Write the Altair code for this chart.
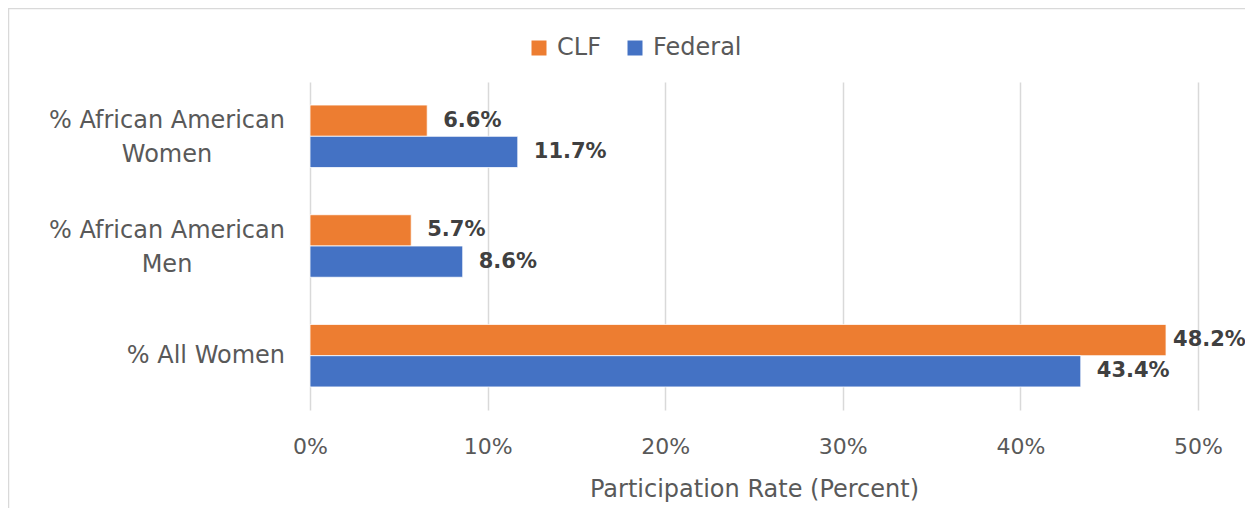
import altair as alt
import pandas as pd

categories = ["% African American Women", "% African American Men", "% All Women"]
label_lines = [["% African American", "Women"], ["% African American", "Men"], ["% All Women"]]
series = ["CLF", "Federal"]
clf_values = [6.6, 5.7, 48.2]
federal_values = [11.7, 8.6, 43.4]
x_ticks = [0, 10, 20, 30, 40, 50]

rows = []
for c, a, b in zip(categories, clf_values, federal_values):
    rows.append({"category": c, "series": "CLF", "value": a})
    rows.append({"category": c, "series": "Federal", "value": b})
df = pd.DataFrame(rows)
df["label"] = df["value"].map(lambda v: f"{v:.1f}%")

lab = pd.DataFrame({"category": categories, "lines": label_lines,
                    "multi": [len(l) > 1 for l in label_lines]})

FONT = "DejaVu Sans"
GRAY = "#595959"

yscale = alt.Scale(domain=categories, paddingInner=0.43, paddingOuter=0.21)
y = alt.Y("category:N", scale=yscale, axis=None)

bars = alt.Chart(df).mark_bar(stroke="white", strokeWidth=0.8).encode(
    x=alt.X("value:Q", scale=alt.Scale(domain=[0, 50], nice=False),
            axis=alt.Axis(values=x_ticks, labelExpr="datum.value + '%'",
                          title="Participation Rate (Percent)",
                          grid=True, gridColor="#D9D9D9", gridWidth=1.5,
                          domain=False, ticks=False, labelFlush=False,
                          labelFont=FONT, labelFontSize=22, labelColor=GRAY,
                          labelPadding=26,
                          titleFont=FONT, titleFontSize=24, titleColor=GRAY,
                          titleFontWeight="normal", titlePadding=20)),
    y=y,
    yOffset=alt.YOffset("series:N", sort=series),
    color=alt.Color("series:N", sort=series,
                    scale=alt.Scale(domain=series, range=["#ED7D31", "#4472C4"]),
                    legend=alt.Legend(title=None, orient="none", direction="horizontal",
                                      legendX=217, legendY=-46,
                                      symbolType="square", symbolSize=225,
                                      symbolStrokeWidth=0, labelOffset=6,
                                      columnPadding=22, padding=0,
                                      labelFont=FONT, labelFontSize=24, labelColor=GRAY)),
)

small = alt.Chart(df).transform_filter("datum.value < 45").mark_text(
    align="left", baseline="middle", dx=16, font=FONT, fontSize=21,
    fontWeight="bold", color="#404040").encode(
    x="value:Q", y=y, yOffset=alt.YOffset("series:N", sort=series), text="label:N")

big = alt.Chart(df).transform_filter("datum.value >= 45").mark_text(
    align="left", baseline="middle", dx=7, font=FONT, fontSize=21,
    fontWeight="bold", color="#404040").encode(
    x="value:Q", y=y, yOffset=alt.YOffset("series:N", sort=series), text="label:N")

ylab_multi = alt.Chart(lab).transform_filter("datum.multi").mark_text(
    align="center", baseline="middle", font=FONT, fontSize=24, color=GRAY,
    lineHeight=34, dy=-15).encode(x=alt.value(-143), y=y, text="lines")

ylab_single = alt.Chart(lab).transform_filter("!datum.multi").mark_text(
    align="right", baseline="middle", font=FONT, fontSize=24, color=GRAY).encode(
    x=alt.value(-25), y=y, text="lines")

frame = alt.Chart(pd.DataFrame({"a": [0]})).mark_rect(
    fill="transparent", stroke="#D9D9D9", strokeWidth=1.5).encode(
    x=alt.value(-301.5), x2=alt.value(940), y=alt.value(-73.5), y2=alt.value(430))

chart = alt.layer(frame, bars, small, big, ylab_multi, ylab_single).properties(
    width=888, height=328,
    autosize=alt.AutoSizeParams(type="none"),
    padding={"left": 302, "top": 74, "right": 47, "bottom": 98},
).configure_view(stroke=None)

chart.save("out.html", embed_options={"renderer": "svg", "actions": False})
